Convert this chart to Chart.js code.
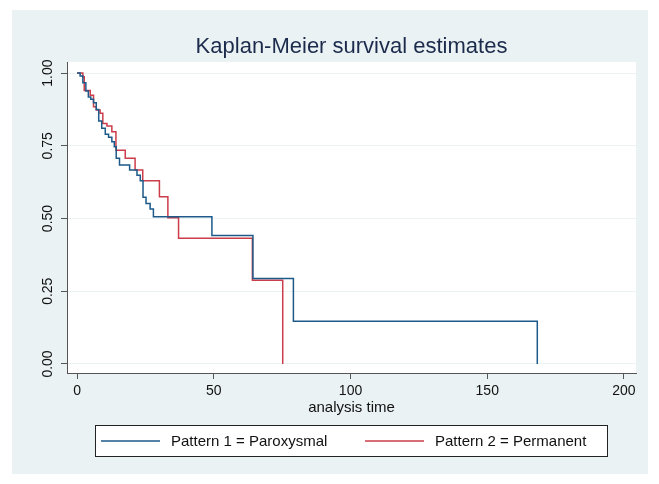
<!DOCTYPE html>
<html>
<head>
<meta charset="utf-8">
<script src="https://cdn.jsdelivr.net/npm/chart.js@4"></script>
<style>
  html, body { margin: 0; padding: 0; background: #ffffff; }
  #km { display: block; }
</style>
</head>
<body>
<canvas id="km" width="659" height="484"></canvas>
<script>
const TITLE = "Kaplan-Meier survival estimates";
const X_TITLE = "analysis time";

const xTicks = [0, 50, 100, 150, 200];
const yTicks = [0, 0.25, 0.5, 0.75, 1];
const yTickLabels = ["0.00", "0.25", "0.50", "0.75", "1.00"];

// Pattern 1 = Paroxysmal (time of each step, survival after it)
const paroxTime = [0, 1.1, 2.1, 3.2, 4.1, 5, 6, 7, 7.9, 9, 10.3, 11.5, 12.7, 13.6, 14.3, 15.5, 19.2, 21.9, 23.1, 24.1, 25.2, 26.7, 27.9, 49.3, 64.3, 79.1, 168.3];
const paroxSurv = [1, 0.99, 0.967, 0.938, 0.918, 0.91, 0.898, 0.875, 0.835, 0.81, 0.79, 0.779, 0.764, 0.747, 0.707, 0.684, 0.667, 0.649, 0.63, 0.573, 0.552, 0.533, 0.506, 0.442, 0.294, 0.147, 0];

// Pattern 2 = Permanent
const permTime = [0, 2.1, 2.6, 4.8, 6, 7, 8.4, 9.4, 10.9, 12.7, 14.2, 17.6, 21.2, 24, 30.1, 33.2, 37.1, 64.1, 75.2];
const permSurv = [1, 0.987, 0.94, 0.924, 0.884, 0.873, 0.862, 0.827, 0.818, 0.798, 0.735, 0.707, 0.667, 0.63, 0.575, 0.503, 0.432, 0.288, 0];

const NAVY = "#1d5a8a";
const MAROON = "#cc3d4b";
const BG = "#eaf2f3";
const AXIS = "#555555";

function toPoints(times, surv) {
    return times.map((t, i) => ({ x: t, y: surv[i] }));
}

const FONT = "'Liberation Sans', Arial, sans-serif";

// outer light panel + white plot region
const backdrop = {
    id: "backdrop",
    beforeDraw(chart) {
        const { ctx, chartArea } = chart;
        ctx.save();
        ctx.fillStyle = "#ffffff";
        ctx.fillRect(0, 0, chart.width, chart.height);
        ctx.fillStyle = BG;
        ctx.fillRect(12, 10, 636, 464);
        ctx.fillStyle = "#ffffff";
        ctx.fillRect(chartArea.left, chartArea.top, chartArea.right - chartArea.left, chartArea.bottom - chartArea.top);
        ctx.restore();
    },
};

// title, rotated y labels and boxed legend
const decorations = {
    id: "decorations",
    afterDraw(chart) {
        const { ctx, chartArea } = chart;
        const yScale = chart.scales.y;
        ctx.save();

        ctx.fillStyle = "#1c2b4c";
        ctx.font = `22px ${FONT}`;
        ctx.textAlign = "center";
        ctx.textBaseline = "middle";
        ctx.fillText(TITLE, (chartArea.left + chartArea.right) / 2, 47);

        ctx.fillStyle = "#111111";
        ctx.font = `14px ${FONT}`;
        yTicks.forEach((v, i) => {
            const py = yScale.getPixelForValue(v);
            ctx.save();
            ctx.translate(48, py);
            ctx.rotate(-Math.PI / 2);
            ctx.fillText(yTickLabels[i], 0, 0);
            ctx.restore();
        });

        // legend
        const box = { x: 95.5, y: 425.5, w: 512, h: 31 };
        ctx.fillStyle = "#ffffff";
        ctx.fillRect(box.x, box.y, box.w, box.h);
        ctx.strokeStyle = "#222222";
        ctx.lineWidth = 1;
        ctx.strokeRect(box.x, box.y, box.w, box.h);

        const entries = [
            { x: 101, ds: chart.data.datasets[0] },
            { x: 365, ds: chart.data.datasets[1] },
        ];
        const ly = box.y + box.h / 2;
        ctx.font = `15px ${FONT}`;
        ctx.textAlign = "left";
        entries.forEach((e) => {
            ctx.strokeStyle = e.ds.borderColor;
            ctx.lineWidth = 1.5;
            ctx.beginPath();
            ctx.moveTo(e.x, ly);
            ctx.lineTo(e.x + 59, ly);
            ctx.stroke();
            ctx.fillStyle = "#111111";
            ctx.fillText(e.ds.label, e.x + 70, ly + 1);
        });
        ctx.restore();
    },
};

new Chart(document.getElementById("km"), {
    type: "line",
    data: {
        datasets: [
            {
                label: "Pattern 1 = Paroxysmal",
                data: toPoints(paroxTime, paroxSurv),
                borderColor: NAVY,
                borderWidth: 1.5,
                stepped: "before",
                pointRadius: 0,
                fill: false,
            },
            {
                label: "Pattern 2 = Permanent",
                data: toPoints(permTime, permSurv),
                borderColor: MAROON,
                borderWidth: 1.5,
                stepped: "before",
                pointRadius: 0,
                fill: false,
            },
        ],
    },
    options: {
        responsive: false,
        animation: false,
        devicePixelRatio: 1,
        layout: { padding: { top: 62, right: 23, bottom: 67, left: 0 } },
        plugins: {
            legend: { display: false },
            title: { display: false },
            tooltip: { enabled: false },
        },
        scales: {
            x: {
                type: "linear",
                min: -3.7,
                max: 204.4,
                afterBuildTicks: (scale) => { scale.ticks = xTicks.map((v) => ({ value: v })); },
                afterFit: (scale) => { scale.height = 44; },
                ticks: {
                    color: "#111111",
                    font: { family: FONT, size: 14 },
                    padding: 4,
                    maxRotation: 0,
                    callback: (v) => String(v),
                },
                grid: { drawOnChartArea: false, drawTicks: true, tickLength: 6, tickColor: AXIS, tickWidth: 1 },
                border: { display: true, color: AXIS, width: 1 },
                title: {
                    display: true,
                    text: X_TITLE,
                    color: "#111111",
                    font: { family: FONT, size: 15 },
                    padding: { top: 0, bottom: 0 },
                },
            },
            y: {
                type: "linear",
                min: -0.031,
                max: 1.038,
                afterBuildTicks: (scale) => { scale.ticks = yTicks.map((v) => ({ value: v })); },
                afterFit: (scale) => { scale.width = 67; },
                ticks: { display: false },
                grid: { color: BG, lineWidth: 1, drawTicks: true, tickLength: 6, tickColor: AXIS, tickWidth: 1 },
                border: { display: true, color: AXIS, width: 1 },
            },
        },
    },
    plugins: [backdrop, decorations],
});
</script>
</body>
</html>
